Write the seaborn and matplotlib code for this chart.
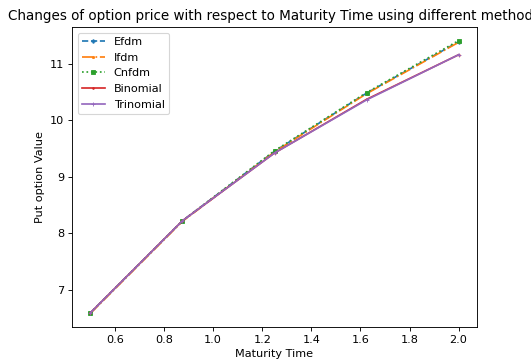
import matplotlib
matplotlib.use("Agg")
import matplotlib.pyplot as plt
import seaborn as sns
import pandas as pd

maturity = [0.5, 0.875, 1.25, 1.625, 2.0]
efdm = [6.59, 8.22, 9.45, 10.48, 11.39]
ifdm = [6.58, 8.21, 9.44, 10.47, 11.38]
cnfdm = [6.59, 8.22, 9.46, 10.49, 11.41]
binomial = [6.59, 8.22, 9.42, 10.37, 11.16]
trinomial = [6.59, 8.22, 9.42, 10.36, 11.16]

series = [("Efdm", efdm, "--", "P", 3, "#1f77b4"),
          ("Ifdm", ifdm, "-.", ".", 4, "#ff7f0e"),
          ("Cnfdm", cnfdm, ":", "s", 4, "#2ca02c"),
          ("Binomial", binomial, "-", ".", 3, "#d62728"),
          ("Trinomial", trinomial, "-", "+", 4, "#9467bd")]

fig = plt.figure(figsize=(531/81, 364/81), dpi=81)
ax = fig.add_axes([72/531, 37/364, 405/531, 300/364])
for name, vals, ls, mk, ms, col in series:
    df = pd.DataFrame({"T": maturity, "V": vals})
    sns.lineplot(data=df, x="T", y="V", ax=ax, label=name, linestyle=ls,
                 marker=mk, markersize=ms, color=col, markeredgecolor=col)
ax.set_xlabel("Maturity Time")
ax.set_ylabel("Put option Value")
ax.set_title("Changes of option price with respect to Maturity Time using different methods")
ax.legend(loc="upper left")
fig.savefig("out.png", dpi=81)
